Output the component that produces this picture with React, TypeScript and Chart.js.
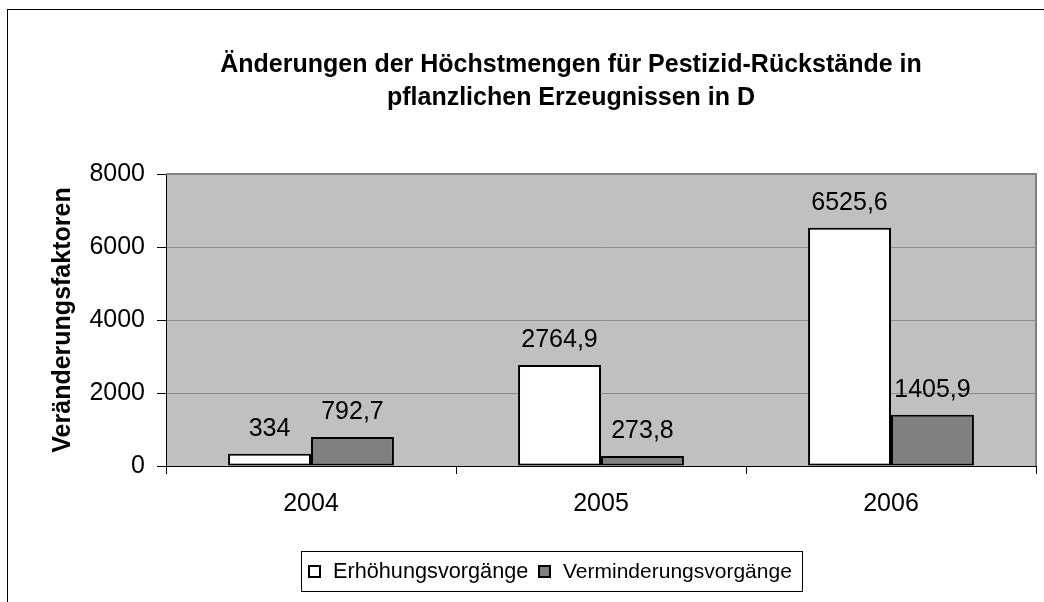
import React, { useEffect, useRef } from "react";
import { Chart, registerables } from "chart.js";

Chart.register(...registerables);

const categories = ["2004", "2005", "2006"];
const seriesNames = ["Erhöhungsvorgänge", "Verminderungsvorgänge"];
const erhoehung = [334, 2764.9, 6525.6];
const verminderung = [792.7, 273.8, 1405.9];
const yTicks = [0, 2000, 4000, 6000, 8000];
const titleLines = [
  "Änderungen der Höchstmengen für Pestizid-Rückstände in",
  "pflanzlichen Erzeugnissen in D",
];
const yTitle = "Veränderungsfaktoren";

const FONT = "'Liberation Sans', Arial, sans-serif";
const fillColors = ["#FFFFFF", "#808080"];
const legendSquareX = [309, 539];

export default function App() {
  const ref = useRef<HTMLCanvasElement | null>(null);

  useEffect(() => {
    if (!ref.current) return;

    const decor = {
      id: "decor",
      beforeDraw(chart: any) {
        const { ctx, chartArea: a } = chart;
        ctx.save();
        ctx.fillStyle = "#FFFFFF";
        ctx.fillRect(0, 0, chart.width, chart.height);
        ctx.strokeStyle = "#000000";
        ctx.lineWidth = 1;
        ctx.strokeRect(7.5, 9.5, 3000, 3000);
        ctx.fillStyle = "#C0C0C0";
        ctx.fillRect(a.left, a.top, a.right - a.left, a.bottom - a.top);
        ctx.restore();
      },
      afterDraw(chart: any) {
        const { ctx, chartArea: a } = chart;
        ctx.save();
        // plot border top/right
        ctx.strokeStyle = "#808080";
        ctx.lineWidth = 2;
        ctx.beginPath();
        ctx.moveTo(a.left, a.top);
        ctx.lineTo(a.right, a.top);
        ctx.lineTo(a.right, a.bottom);
        ctx.stroke();
        // title
        ctx.fillStyle = "#000000";
        ctx.font = `bold 25px ${FONT}`;
        ctx.textAlign = "center";
        ctx.textBaseline = "middle";
        ctx.fillText(titleLines[0], 571, 65);
        ctx.fillText(titleLines[1], 571, 98);
        // legend
        const lx = 301, ly = 551, lw = 501, lh = 40;
        ctx.lineWidth = 1;
        ctx.strokeStyle = "#000000";
        ctx.strokeRect(lx + 0.5, ly + 0.5, lw, lh);
        ctx.textAlign = "left";
        seriesNames.forEach((name, i) => {
          const x = legendSquareX[i];
          ctx.fillStyle = fillColors[i];
          ctx.fillRect(x, 566, 11, 11);
          ctx.lineWidth = 2;
          ctx.strokeRect(x, 566, 11, 11);
          ctx.fillStyle = "#000000";
          ctx.font = `${i === 0 ? 21.7 : 21} px ${FONT}`.replace(" px", "px");
          ctx.fillText(name, x + 24, 572);
        });
        ctx.restore();
      },
      afterDatasetsDraw(chart: any) {
        const { ctx } = chart;
        ctx.save();
        ctx.fillStyle = "#000000";
        ctx.font = `25px ${FONT}`;
        ctx.textAlign = "center";
        ctx.textBaseline = "middle";
        chart.data.datasets.forEach((ds: any, di: number) => {
          const meta = chart.getDatasetMeta(di);
          meta.data.forEach((el: any, i: number) => {
            const v = ds.data[i];
            ctx.fillText(String(v).replace(".", ","), el.x, el.y - 25);
          });
        });
        ctx.restore();
      },
    };

    const chart = new Chart(ref.current, {
      type: "bar",
      data: {
        labels: categories,
        datasets: [
          {
            label: seriesNames[0],
            data: erhoehung,
            backgroundColor: fillColors[0],
            borderColor: "#000000",
            borderWidth: 2,
            borderSkipped: false,
            barPercentage: 1,
            categoryPercentage: 0.572,
          },
          {
            label: seriesNames[1],
            data: verminderung,
            backgroundColor: fillColors[1],
            borderColor: "#000000",
            borderWidth: 2,
            borderSkipped: false,
            barPercentage: 1,
            categoryPercentage: 0.572,
          },
        ],
      },
      options: {
        responsive: false,
        animation: false,
        layout: { padding: { top: 174, right: 8, left: 0, bottom: 0 } },
        plugins: {
          legend: { display: false },
          title: { display: false },
          tooltip: { enabled: false },
        },
        scales: {
          x: {
            offset: true,
            grid: {
              offset: true,
              drawOnChartArea: false,
              drawTicks: true,
              tickLength: 8,
              tickColor: "#000000",
            },
            border: { color: "#000000", width: 1 },
            ticks: {
              color: "#000000",
              font: { family: FONT, size: 25 },
              padding: 15,
            },
            afterFit(scale: any) {
              scale.height = 602 - 466;
            },
          },
          y: {
            min: 0,
            max: 8000,
            afterBuildTicks(scale: any) {
              scale.ticks = yTicks.map((v) => ({ value: v }));
            },
            grid: {
              color: "#8C8C8C",
              lineWidth: 1,
              tickLength: 9,
              tickColor: "#000000",
            },
            border: { color: "#000000", width: 1 },
            ticks: {
              color: "#000000",
              font: { family: FONT, size: 25 },
              padding: 12,
              callback: (v: any) => String(v),
            },
            title: {
              display: true,
              text: yTitle,
              color: "#000000",
              font: { family: FONT, size: 25, weight: "bold" },
              padding: { top: 48, bottom: 0 },
            },
            afterFit(scale: any) {
              scale.width = 166;
            },
          },
        },
      },
      plugins: [decor],
    });

    return () => chart.destroy();
  }, []);

  return (
    <div style={{ position: "absolute", left: 0, top: 0, width: 1044, height: 602 }}>
      <canvas ref={ref} width={1044} height={602} style={{ display: "block" }} />
    </div>
  );
}
